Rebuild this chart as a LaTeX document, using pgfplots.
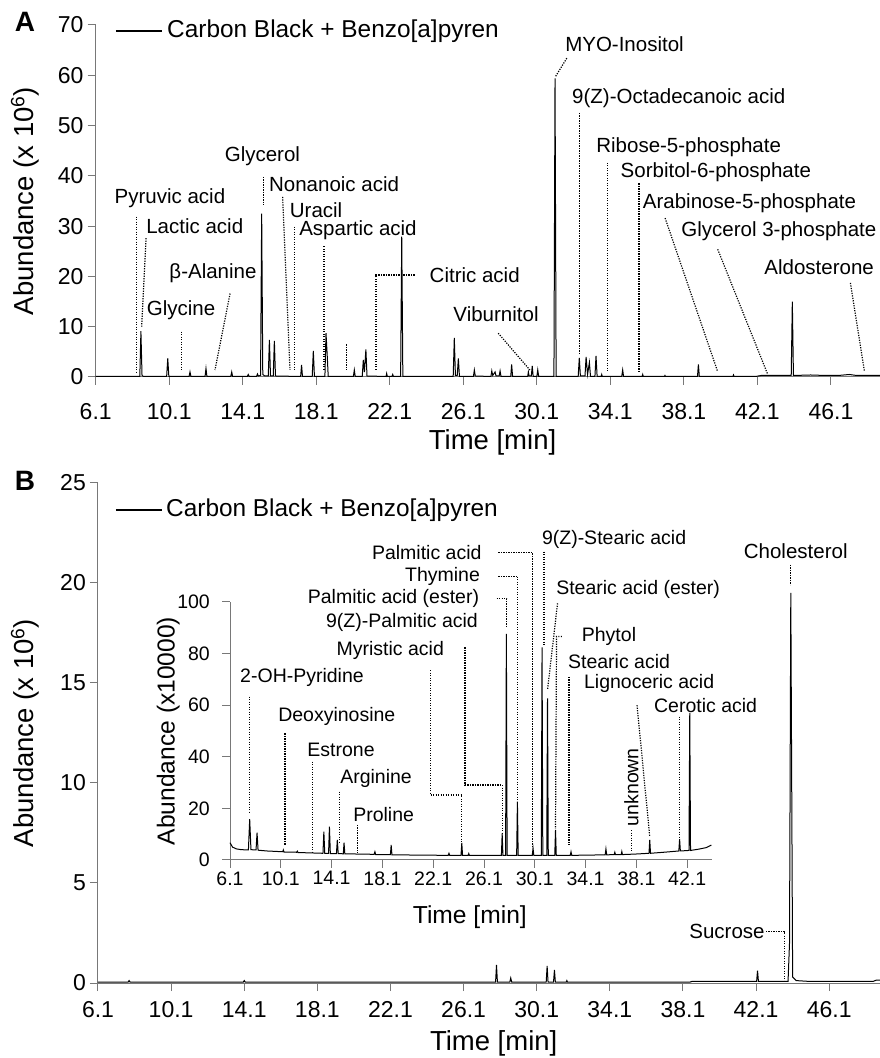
\documentclass[border=0pt]{standalone}
\usepackage{pgfplots}
\pgfplotsset{compat=1.18}
\usepackage{fontspec}
\setmainfont{Liberation Sans}
\definecolor{axgray}{RGB}{120,120,120}
\newcommand{\fs}[1]{\fontsize{#1}{#1}\selectfont}
\tikzset{
  ann/.style={black, line width=1.2pt, dash pattern=on 1.2pt off 1.3pt},
  lab/.style={font=\fs{20.5}, inner sep=0pt, anchor=center},
  ilab/.style={font=\fs{19.5}, inner sep=0pt, anchor=center},
}
\pgfplotsset{
  chrom/.style={
    scale only axis, axis x line=bottom, axis y line=left,
    axis line style={-, draw=axgray, line width=1pt},
    tick align=outside, major tick length=8pt,
    tick style={draw=axgray, line width=1pt},
    /pgf/number format/assume math mode=true,
    clip=false, anchor=south west,
  },
  trace/.style={black, line width=1pt, no marks},
}
\begin{document}
\begin{tikzpicture}[x=1pt,y=1pt]
\useasboundingbox (0,0) rectangle (880,1058);
% ---------------- Panel A ----------------
\begin{axis}[chrom, at={(95.7pt,681pt)}, width=784.3pt, height=352pt,
  xmin=6.1, xmax=48.77, ymin=0, ymax=70,
  xtick={6.1,10.1,14.1,18.1,22.1,26.1,30.1,34.1,38.1,42.1,46.1},
  xticklabels={6.1,10.1,14.1,18.1,22.1,26.1,30.1,34.1,38.1,42.1,46.1},
  ytick={0,10,20,30,40,50,60,70},
  ticklabel style={font=\fs{23}},
  yticklabel style={inner xsep=4pt},
  xticklabel style={yshift=-15pt},
  xlabel={Time [min]}, ylabel={Abundance (x 10\textsuperscript{6})},
  xlabel style={font=\fs{27.5}, at={(axis description cs:0.506,-0.185)}, anchor=center},
  ylabel style={font=\fs{27.5}, at={(axis description cs:-0.0901,0.5)}, anchor=center},
]
\addplot[trace] coordinates {
(6.1,0.1) (8.4,0.1) (8.50,0.1) (8.56,9.1) (8.62,0.3) (8.7,0.1) (9.96,0.1) (10.02,3.7) (10.08,0.1)
(11.18,0.1) (11.23,1.0) (11.28,0.1) (12.05,0.1) (12.1,1.7) (12.15,0.1) (13.45,0.1) (13.5,1.0) (13.55,0.1)
(14.35,0.1) (14.4,0.5) (14.45,0.1) (14.85,0.1) (14.9,0.6) (14.95,0.2) (15.07,0.3) (15.13,32.5) (15.19,0.5)
(15.3,0.2) (15.49,0.2) (15.55,7.4) (15.61,0.2) (15.76,0.2) (15.82,7.2) (15.88,0.2) (17.25,0.1) (17.3,2.4)
(17.35,0.1) (17.88,0.1) (17.94,5.2) (18.0,0.1) (18.57,0.1) (18.63,8.7) (18.7,4) (18.75,0.1) (20.12,0.1)
(20.17,1.4) (20.22,0.1) (20.6,0.1) (20.66,3.4) (20.72,1.0) (20.8,5.5) (20.86,0.2) (21.9,0.1) (21.93,0.7)
(21.97,0.1) (22.22,0.1) (22.26,0.5) (22.3,0.1) (22.69,0.1) (22.75,27.9) (22.81,0.1) (25.55,0.1) (25.61,7.8)
(25.67,0.3) (25.77,0.3) (25.83,3.7) (25.89,0.1) (26.65,0.1) (26.7,1.4) (26.75,0.2) (27.6,0.1) (27.65,1.2)
(27.7,0.3) (27.83,1.0) (27.88,0.2) (28.05,0.2) (28.1,1.2) (28.15,0.1) (28.68,0.1) (28.73,2.5) (28.78,0.1)
(29.6,0.1) (29.64,1.0) (29.68,0.2) (29.8,0.2) (29.85,2.2) (29.9,0.1) (30.1,0.1) (30.15,1.4) (30.2,0.1)
(31.03,0.1) (31.09,59.4) (31.15,0.1) (32.35,0.1) (32.41,3.8) (32.47,0.2) (32.72,0.2) (32.78,4.0) (32.86,0.5)
(32.96,2.9) (33.02,0.1) (33.26,0.1) (33.32,4.2) (33.38,0.1) (33.6,0.1) (33.63,0.5) (33.66,0.1) (34.72,0.1)
(34.77,1.4) (34.82,0.1) (35.83,0.1) (35.86,0.5) (35.89,0.1) (37.04,0.1) (37.07,0.3) (37.1,0.1) (38.84,0.1)
(38.89,2.5) (38.94,0.1) (40.77,0.1) (40.8,0.4) (40.83,0.1) (42.0,0.1) (42.3,0.3) (43.0,0.3) (43.94,0.3)
(44.0,15.0) (44.06,0.3) (45.0,0.4) (45.8,0.3) (46.5,0.3) (47.1,0.5) (47.5,0.3) (48.77,0.3)
};
\draw[black, line width=1.2pt] (axis cs:7.2,68.8) -- (axis cs:9.71,68.8);
\node[font=\fs{24.4}, inner sep=0pt, anchor=west] at (axis cs:9.98,68.8) {Carbon Black + Benzo[a]pyren};
\node[lab] at (axis cs:10.14,35.6) {Pyruvic acid};
\draw[ann] (axis cs:8.33,31.9) -- (axis cs:8.33,1.05);
\node[lab] at (axis cs:11.49,29.9) {Lactic acid};
\draw[ann] (axis cs:8.84,27.6) -- (axis cs:8.60,10.0);
\node[lab] at (axis cs:10.74,13.3) {Glycine};
\draw[ann] (axis cs:10.78,9.0) -- (axis cs:10.78,1.4);
\node[lab] at (axis cs:12.48,20.6) {β-Alanine};
\draw[ann] (axis cs:13.41,16.6) -- (axis cs:12.59,1.4);
\node[lab] at (axis cs:15.17,44.0) {Glycerol};
\draw[ann] (axis cs:15.22,39.8) -- (axis cs:15.22,34.2);
\node[lab] at (axis cs:19.07,38.4) {Nonanoic acid};
\draw[ann] (axis cs:16.27,35.8) -- (axis cs:16.67,1.4);
\node[lab] at (axis cs:18.09,33.2) {Uracil};
\draw[ann] (axis cs:16.91,29.9) -- (axis cs:16.91,1.25);
\node[lab] at (axis cs:20.37,29.2) {Aspartic acid};
\draw[ann] (axis cs:18.52,26.0) -- (axis cs:18.52,1.4);
\draw[ann] (axis cs:19.76,6.5) -- (axis cs:19.76,1.4);
\draw[ann] (axis cs:21.35,1.4) -- (axis cs:21.35,20.3) -- (axis cs:23.47,20.3);
\node[lab] at (axis cs:26.72,20.3) {Citric acid};
\node[lab] at (axis cs:27.88,12.5) {Viburnitol};
\draw[ann] (axis cs:28.0,8.7) -- (axis cs:29.72,1.4);
\node[lab] at (axis cs:34.87,66.1) {MYO-Inositol};
\draw[ann] (axis cs:31.73,63.4) -- (axis cs:31.09,59.6);
\node[lab] at (axis cs:37.82,55.5) {9(Z)-Octadecanoic acid};
\draw[ann] (axis cs:32.4,52.5) -- (axis cs:32.4,4.7);
\node[lab] at (axis cs:38.36,45.7) {Ribose-5-phosphate};
\draw[ann] (axis cs:33.93,42.6) -- (axis cs:33.93,1.05);
\node[lab] at (axis cs:39.84,40.7) {Sorbitol-6-phosphate};
\draw[ann] (axis cs:35.66,38.5) -- (axis cs:35.66,0.85);
\node[lab] at (axis cs:41.67,34.5) {Arabinose-5-phosphate};
\draw[ann] (axis cs:37.08,31.6) -- (axis cs:39.94,1.05);
\node[lab] at (axis cs:43.27,29.0) {Glycerol 3-phosphate};
\draw[ann] (axis cs:39.94,25.4) -- (axis cs:42.66,0.54);
\node[lab] at (axis cs:45.46,21.9) {Aldosterone};
\draw[ann] (axis cs:47.16,18.7) -- (axis cs:47.92,1.2);
\end{axis}
\node[font=\bfseries\fs{28}, inner sep=0pt] at (25,1036) {A};
% ---------------- Panel B ----------------
\begin{axis}[chrom, at={(98pt,75pt)}, width=782pt, height=500pt,
  xmin=6.1, xmax=48.88, ymin=0, ymax=25,
  xtick={6.1,10.1,14.1,18.1,22.1,26.1,30.1,34.1,38.1,42.1,46.1},
  xticklabels={6.1,10.1,14.1,18.1,22.1,26.1,30.1,34.1,38.1,42.1,46.1},
  ytick={0,5,10,15,20,25},
  ticklabel style={font=\fs{23}},
  yticklabel style={inner xsep=4pt},
  xticklabel style={yshift=-7pt},
  xlabel={Time [min]}, ylabel={Abundance (x 10\textsuperscript{6})},
  xlabel style={font=\fs{27.5}, at={(axis description cs:0.506,-0.12)}, anchor=center},
  ylabel style={font=\fs{27.5}, at={(axis description cs:-0.0934,0.5)}, anchor=center},
]
\addplot[trace] coordinates {
(6.1,0.05) (7.75,0.05) (7.8,0.12) (7.85,0.05) (14.05,0.05) (14.1,0.12) (14.15,0.05) (27.85,0.05) (27.9,0.9)
(27.95,0.05) (28.63,0.05) (28.68,0.25) (28.73,0.05) (30.62,0.05) (30.67,0.85) (30.72,0.05) (31.02,0.05)
(31.07,0.65) (31.12,0.05) (31.72,0.05) (31.75,0.12) (31.78,0.05) (38.5,0.05) (38.6,0.08) (42.13,0.08)
(42.18,0.62) (42.23,0.08) (43.85,0.08) (43.93,2.0) (44.0,19.5) (44.1,0.3) (44.3,0.12) (45,0.08) (48.5,0.08)
(48.7,0.15) (48.88,0.15)
};
\draw[black, line width=1.2pt] (axis cs:7.08,23.65) -- (axis cs:9.6,23.65);
\node[font=\fs{24.4}, inner sep=0pt, anchor=west] at (axis cs:9.82,23.65) {Carbon Black + Benzo[a]pyren};
\node[lab] at (axis cs:44.27,21.6) {Cholesterol};
\draw[ann] (axis cs:43.99,20.9) -- (axis cs:43.99,19.9);
\node[lab] at (axis cs:40.51,2.57) {Sucrose};
\draw[ann] (axis cs:42.64,2.57) -- (axis cs:43.65,2.57) -- (axis cs:43.65,0.07);
\end{axis}
\node[font=\bfseries\fs{28}, inner sep=0pt] at (25,577) {B};
% ---------------- Inset ----------------
\begin{axis}[chrom, at={(230pt,198pt)}, width=481.6pt, height=258pt,
  xmin=6.1, xmax=44.02, ymin=0, ymax=100,
  xtick={6.1,10.1,14.1,18.1,22.1,26.1,30.1,34.1,38.1,42.1},
  xticklabels={6.1,10.1,14.1,18.1,22.1,26.1,30.1,34.1,38.1,42.1},
  ytick={0,20,40,60,80,100},
  ticklabel style={font=\fs{19.5}},
  yticklabel style={inner xsep=12pt},
  xlabel={Time [min]}, ylabel={Abundance (x10000)},
  xlabel style={font=\fs{24.6}, at={(axis description cs:0.498,-0.221)}, anchor=center},
  ylabel style={font=\fs{24.6}, at={(axis description cs:-0.128,0.5)}, anchor=center},
]
\addplot[trace] coordinates {
(6.1,6.7) (6.3,5.0) (6.6,4.3) (7.0,4.0) (7.55,3.9) (7.65,15.8) (7.75,4.0) (8.15,3.9) (8.23,10.6) (8.31,3.8)
(9.0,3.5) (10.25,3.2) (10.3,3.9) (10.35,3.1) (11.35,3.0) (11.4,3.4) (11.45,2.9) (13.42,2.6) (13.49,11.0)
(13.56,2.6) (13.86,2.6) (13.93,12.9) (14.0,2.5) (14.48,2.5) (14.55,7.8) (14.62,2.5) (15.02,2.4) (15.08,6.7)
(15.14,2.4) (17.45,2.2) (17.51,3.2) (17.57,2.1) (18.73,2.1) (18.79,5.8) (18.85,2.0) (23.28,1.8) (23.34,2.6)
(23.4,1.8) (24.29,1.8) (24.35,6.6) (24.41,1.8) (24.85,1.8) (24.9,2.5) (24.95,1.8) (27.47,1.8) (27.53,10.3)
(27.59,1.8) (27.8,1.8) (27.86,87.6) (27.92,1.8) (28.67,1.8) (28.73,22.6) (28.79,1.8) (29.9,1.8) (29.96,4.6)
(30.02,1.8) (30.61,1.8) (30.67,82.4) (30.73,1.8) (31.04,1.8) (31.1,62.6) (31.16,1.8) (31.67,1.8) (31.73,11.6)
(31.79,1.8) (32.89,1.8) (32.95,3.2) (33.01,1.8) (35.64,2.0) (35.7,4.3) (35.76,2.0) (36.35,2.1) (36.4,3.0)
(36.45,2.1) (36.9,2.1) (36.95,3.3) (37.0,2.1) (38.0,2.3) (39.09,2.6) (39.15,7.8) (39.21,2.6) (40.5,3.1)
(41.44,3.5) (41.5,8.1) (41.56,3.5) (42.24,3.7) (42.3,57) (42.36,3.7) (43.0,4.2) (43.6,4.8) (44.0,5.8)
};
\node[ilab] at (axis cs:11.77,70.8) {2-OH-Pyridine};
\draw[ann] (axis cs:7.62,63.3) -- (axis cs:7.62,18.1);
\node[ilab] at (axis cs:14.51,55.5) {Deoxyinosine};
\draw[ann] (axis cs:10.43,49.1) -- (axis cs:10.43,5.8);
\node[ilab] at (axis cs:14.84,42.6) {Estrone};
\draw[ann] (axis cs:12.6,38.1) -- (axis cs:12.6,2.6);
\node[ilab] at (axis cs:17.6,31.7) {Arginine};
\draw[ann] (axis cs:14.72,26.5) -- (axis cs:14.72,7.1);
\node[ilab] at (axis cs:18.2,17.8) {Proline};
\draw[ann] (axis cs:16.14,13.6) -- (axis cs:16.14,2.6);
\node[ilab] at (axis cs:18.72,81.4) {Myristic acid};
\draw[ann] (axis cs:21.88,73.6) -- (axis cs:21.88,25.2) -- (axis cs:24.35,25.2) -- (axis cs:24.35,6.6);
\node[ilab] at (axis cs:19.64,91.9) {9(Z)-Palmitic acid};
\draw[ann] (axis cs:24.6,82.4) -- (axis cs:24.6,29.1) -- (axis cs:27.53,29.1) -- (axis cs:27.53,10.3);
\node[ilab] at (axis cs:18.97,101.5) {Palmitic acid (ester)};
\draw[ann] (axis cs:27.1,101.4) -- (axis cs:27.89,101.4) -- (axis cs:27.89,90.4);
\node[ilab] at (axis cs:22.83,110) {Thymine};
\draw[ann] (axis cs:27.23,110) -- (axis cs:28.76,110) -- (axis cs:28.76,22.6);
\node[ilab] at (axis cs:21.59,119.1) {Palmitic acid};
\draw[ann] (axis cs:27.23,119.1) -- (axis cs:29.93,119.1) -- (axis cs:29.93,4.6);
\node[ilab] at (axis cs:36.34,124.4) {9(Z)-Stearic acid};
\draw[ann] (axis cs:30.82,119.5) -- (axis cs:30.82,83);
\node[ilab] at (axis cs:38.23,104.7) {Stearic acid (ester)};
\draw[ann] (axis cs:31.89,99.5) -- (axis cs:31.1,65.9);
\node[ilab] at (axis cs:35.94,86.6) {Phytol};
\draw[ann] (axis cs:32.24,86.6) -- (axis cs:31.81,86.6) -- (axis cs:31.73,12);
\node[ilab] at (axis cs:36.73,77.0) {Stearic acid};
\draw[ann] (axis cs:32.79,71) -- (axis cs:32.79,5.8);
\node[ilab] at (axis cs:39.1,68.3) {Lignoceric acid};
\draw[ann] (axis cs:38.15,60) -- (axis cs:39.15,9.0);
\node[ilab, rotate=90] at (axis cs:37.7,28.2) {unknown};
\draw[ann] (axis cs:37.7,11.6) -- (axis cs:37.7,3.2);
\node[ilab] at (axis cs:43.55,60) {Cerotic acid};
\draw[ann] (axis cs:41.5,55.6) -- (axis cs:41.5,7.8);
\end{axis}
\end{tikzpicture}
\end{document}
